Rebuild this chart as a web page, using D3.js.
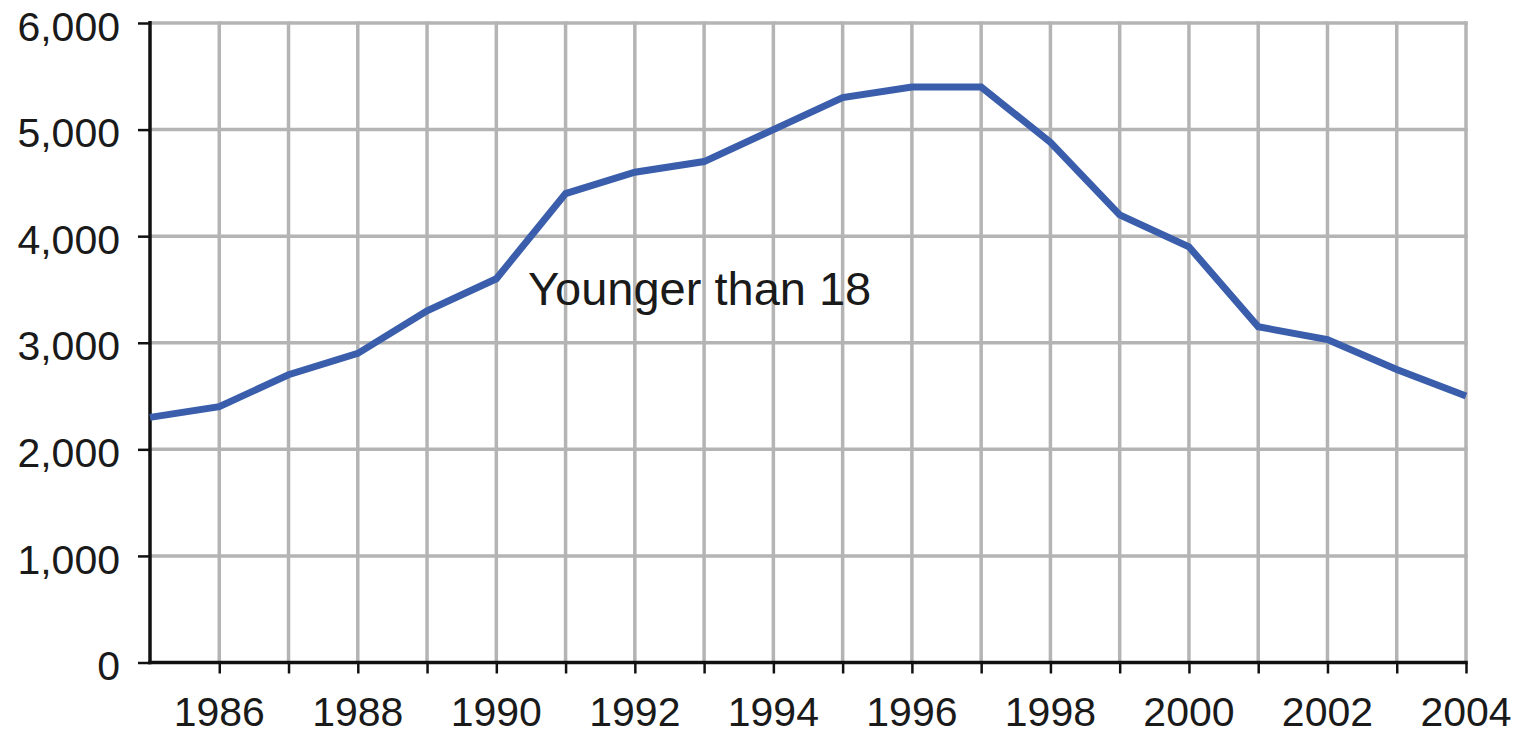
<!DOCTYPE html>
<html>
<head>
<meta charset="utf-8">
<script src="https://cdn.jsdelivr.net/npm/d3@7/dist/d3.min.js"></script>
<style>
  html, body { margin: 0; padding: 0; background: #fff; }
  svg { display: block; }
  text { font-family: "Liberation Sans", Arial, Helvetica, sans-serif; fill: #1a1a1a; }
</style>
</head>
<body>
<svg id="chart" width="1517" height="735"></svg>
<script>
// Annual counts, ages younger than 18
const years = [1985, 1986, 1987, 1988, 1989, 1990, 1991, 1992, 1993, 1994,
               1995, 1996, 1997, 1998, 1999, 2000, 2001, 2002, 2003, 2004];
const youngerThan18 = [2300, 2400, 2700, 2900, 3300, 3600, 4400, 4600, 4700, 5000,
                       5300, 5400, 5400, 4880, 4200, 3900, 3150, 3030, 2750, 2500];
const yTicks = [0, 1000, 2000, 3000, 4000, 5000, 6000];
const xLabelYears = [1986, 1988, 1990, 1992, 1994, 1996, 1998, 2000, 2002, 2004];
const seriesLabel = "Younger than 18";

const svg = d3.select("#chart");
const plotLeft = 150, plotRight = 1466, plotTop = 23, plotBottom = 662.5;

const x = d3.scaleLinear().domain([1985, 2004]).range([plotLeft, plotRight]);
const y = d3.scaleLinear().domain([0, 6000]).range([plotBottom, plotTop]);

const gridColor = "#b4b4b4";
const fmt = d3.format(",");

// Grid
const grid = svg.append("g");
grid.selectAll("line.v")
  .data(years.filter(d => d > 1985))
  .join("line")
  .attr("class", "v")
  .attr("x1", d => x(d)).attr("x2", d => x(d))
  .attr("y1", y(6000) - 1.5).attr("y2", y(0))
  .attr("stroke", gridColor).attr("stroke-width", 3.5);
grid.selectAll("line.h")
  .data(yTicks.filter(d => d > 0))
  .join("line")
  .attr("class", "h")
  .attr("x1", x(1985)).attr("x2", x(2004) + 1.75)
  .attr("y1", d => y(d)).attr("y2", d => y(d))
  .attr("stroke", gridColor).attr("stroke-width", 3.5);

// Y axis
const yAxis = svg.append("g")
  .attr("transform", `translate(${plotLeft},0)`)
  .call(d3.axisLeft(y).tickValues(yTicks).tickSize(12).tickPadding(18).tickFormat(fmt));
yAxis.select(".domain").attr("stroke", "#111").attr("stroke-width", 3.5)
  .attr("d", `M0,${y(6000) - 2}V${y(0) + 1.75}`);
yAxis.selectAll(".tick line").attr("stroke", "#111").attr("stroke-width", 2.5);
yAxis.selectAll(".tick text")
  .attr("font-size", 41).attr("dy", "0.42em")
  .style("font-family", "'Liberation Sans', Arial, sans-serif").attr("fill", "#1a1a1a");

// X axis
const xAxis = svg.append("g")
  .attr("transform", `translate(0,${plotBottom})`)
  .call(d3.axisBottom(x).tickValues(years.filter(d => d > 1985)).tickSize(11).tickFormat(""));
xAxis.select(".domain").attr("stroke", "#111").attr("stroke-width", 3.5)
  .attr("d", `M${plotLeft - 1.75},0H${plotRight + 1.75}`);
xAxis.selectAll(".tick line").attr("stroke", "#111").attr("stroke-width", 2.5);

svg.append("g").selectAll("text")
  .data(xLabelYears)
  .join("text")
  .attr("x", d => x(d))
  .attr("y", 726)
  .attr("text-anchor", "middle")
  .attr("font-size", 41)
  .text(d => d);

// Series line
const line = d3.line()
  .x((d, i) => x(years[i]))
  .y(d => y(d));
svg.append("path")
  .datum(youngerThan18)
  .attr("d", line)
  .attr("fill", "none")
  .attr("stroke", "#3a5eab")
  .attr("stroke-width", 7)
  .attr("stroke-linejoin", "miter");

// Series label
svg.append("text")
  .attr("x", 528)
  .attr("y", 305)
  .attr("font-size", 47)
  .attr("fill", "#222")
  .text(seriesLabel);
</script>
</body>
</html>
